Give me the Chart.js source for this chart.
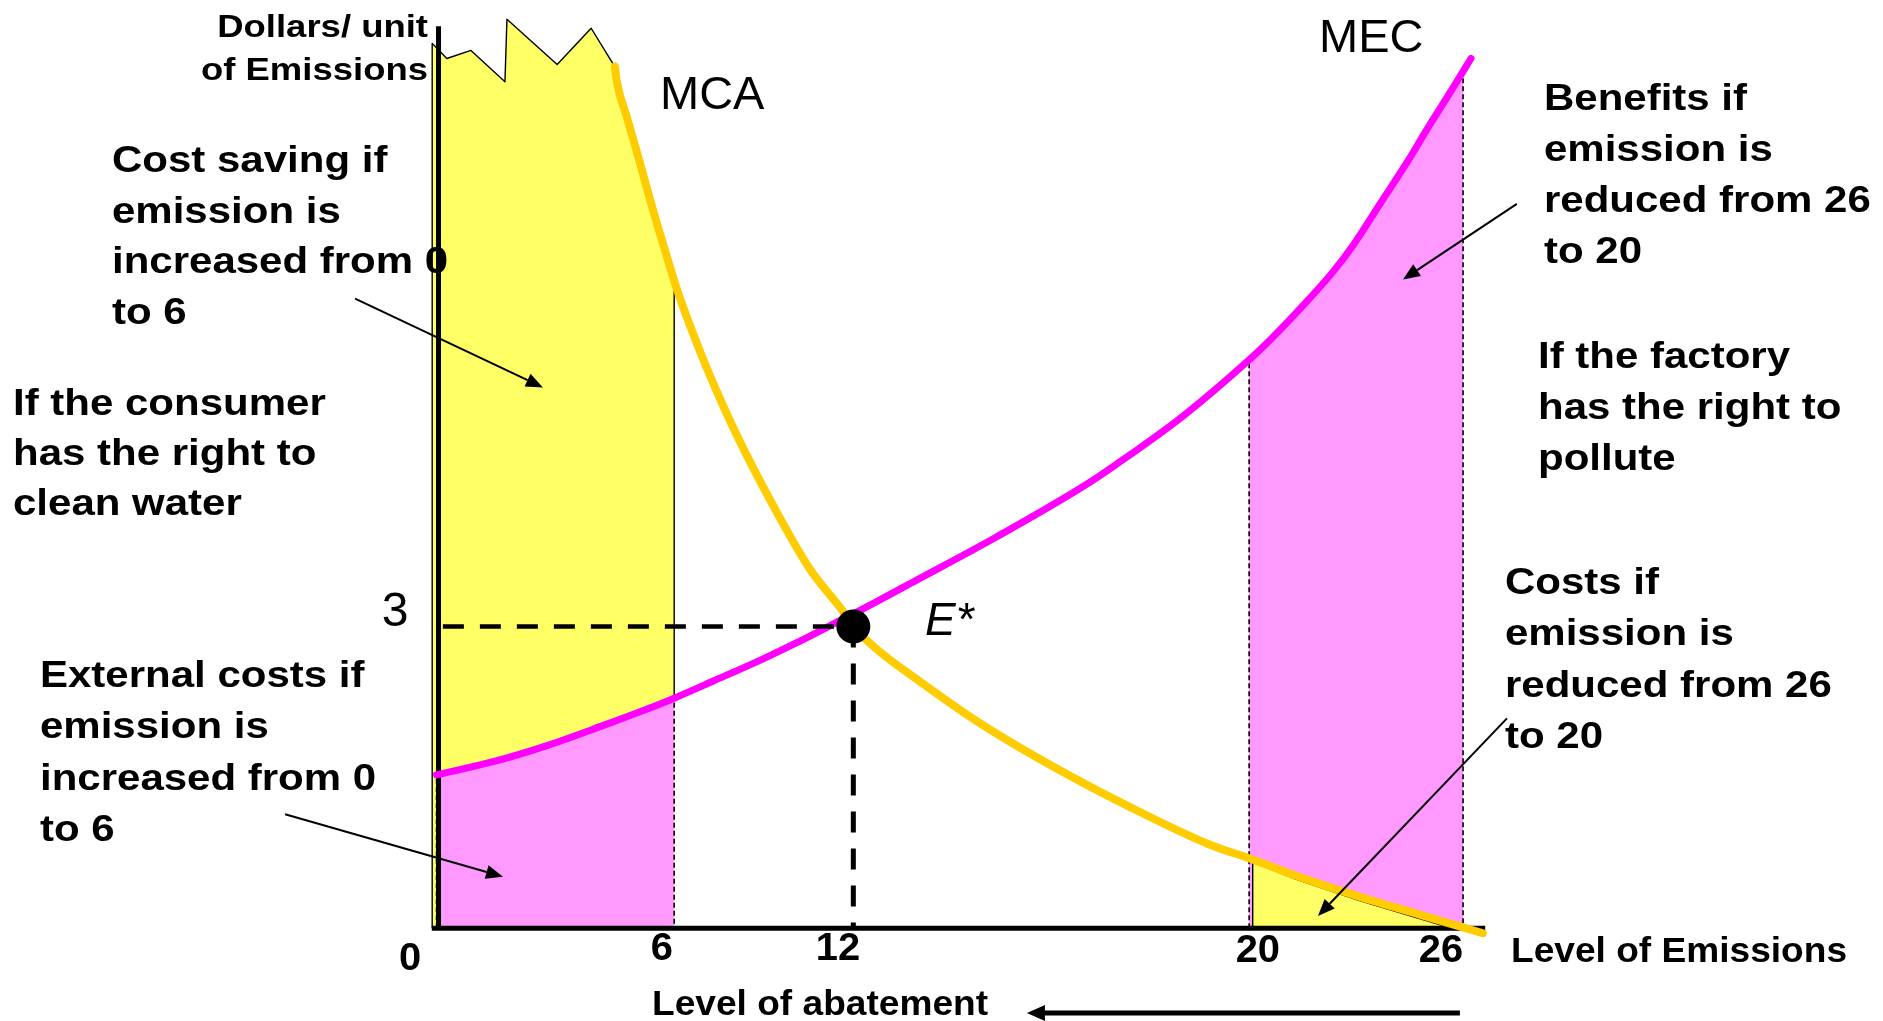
<!DOCTYPE html>
<html>
<head>
<meta charset="utf-8">
<title>Coase: MCA and MEC</title>
<script src="https://cdn.jsdelivr.net/npm/chart.js@4.4.1/dist/chart.umd.min.js"></script>
<style>
    html, body { margin: 0; padding: 0; background: #ffffff; overflow: hidden; }
    #wrap { width: 1883px; height: 1021px; position: relative; }
</style>
</head>
<body>
<div id="wrap"><canvas id="coaseChart"></canvas></div>
<script>
// Marginal cost of abatement (MCA)
const mcaX = [4.55, 4.60, 4.86, 5.18, 5.44, 5.77, 6.12, 6.53, 6.95, 7.64, 8.55, 9.48, 10.32, 10.58, 11.25, 12.14, 13.71, 15.55, 17.63, 19.58, 20.61, 21.85, 23.39, 24.94, 26.5];
const mcaY = [8.54, 8.39, 8.03, 7.59, 7.22, 6.78, 6.33, 5.89, 5.48, 4.88, 4.19, 3.56, 3.14, 2.99, 2.74, 2.48, 2.05, 1.62, 1.19, 0.83, 0.69, 0.51, 0.31, 0.13, -0.05];

// Marginal external cost (MEC)
const mecX = [0.04, 1.47, 2.83, 4.26, 5.35, 6.05, 7.04, 8.30, 9.15, 10.0, 10.75, 12.18, 14.21, 16.40, 17.24, 18.93, 20.61, 21.12, 21.88, 22.74, 23.22, 23.90, 24.63, 25.06, 25.65, 26.2];
const mecY = [1.52, 1.65, 1.81, 2.01, 2.17, 2.28, 2.45, 2.67, 2.83, 3.00, 3.15, 3.45, 3.88, 4.38, 4.60, 5.08, 5.64, 5.83, 6.14, 6.52, 6.77, 7.18, 7.62, 7.90, 8.27, 8.62];

// Broken-off top of the yellow area next to the y axis
const edgeX = [-0.07, 0.13, 0.30, 0.91, 1.77, 1.82, 3.09, 3.95, 4.50];
const edgeY = [8.77, 8.69, 8.62, 8.70, 8.39, 9.01, 8.56, 8.92, 8.57];

// Yellow triangle under MCA between 20 and 26 (its edge runs just under the curve)
const costX = [20.68, 20.68, 21.75, 23.40, 25.70];
const costY = [0, 0.66, 0.49, 0.27, 0];

// Where the tick numbers sit on the drawing, and what they say
const xTickPos = [5.74, 10.19, 20.81, 25.44];
const xTickLabels = ['6', '12', '20', '26'];
const yTickPos = [3];
const yTickLabels = ['3'];

// Equilibrium E* and the strips that are shaded
const eqX = 10.58, eqY = 2.99;
const leftFrom = 0.04, leftTo = 6.05;
const rightFrom = 20.59, rightTo = 26.0;
const axisTop = 8.94, axisEnd = 26.56;

// Arrows: [fromX, fromY, toX, toY]
const arrows = [
    [-2.02, 6.24, 2.73, 5.36],
    [-3.79, 1.13, 1.72, 0.51],
    [27.36, 7.18, 24.48, 6.43],
    [27.11, 2.08, 22.33, 0.12]
];
const abatementArrow = [25.92, -0.84, 14.97, -0.84];

const YELLOW = '#FFFF66';
const PINK = '#FF99FF';
const MAGENTA = '#FF00FF';
const GOLD = '#FFCC00';
const FONT = '"Liberation Sans", Arial, Helvetica, sans-serif';

function pts(xs, ys) {
    return xs.map((x, i) => ({ x: x, y: ys[i] }));
}

function valueAt(xs, ys, x) {
    for (let i = 1; i < xs.length; i++) {
        if (x <= xs[i]) {
            const t = (x - xs[i - 1]) / (xs[i] - xs[i - 1]);
            return ys[i - 1] + t * (ys[i] - ys[i - 1]);
        }
    }
    return ys[ys.length - 1];
}

const mcaPts = pts(mcaX, mcaY);
const mecPts = pts(mecX, mecY);
const edgePts = pts(edgeX, edgeY);

// Shaded areas, each one traced as a closed outline
const mcaLeft = mcaPts.filter(p => p.x < leftTo);
const yellowLeftArea = [{ x: edgeX[0], y: 0 }]
    .concat(edgePts, mcaLeft, [{ x: leftTo, y: valueAt(mcaX, mcaY, leftTo) }, { x: leftTo, y: 0 }]);
const yellowLeftEdge = [{ x: edgeX[0], y: 0 }]
    .concat(edgePts, mcaLeft, [{ x: leftTo, y: valueAt(mcaX, mcaY, leftTo) }, { x: leftTo, y: valueAt(mecX, mecY, leftTo) }]);
const pinkLeftArea = [{ x: leftFrom, y: 0 }]
    .concat(mecPts.filter(p => p.x >= leftFrom && p.x <= leftTo), [{ x: leftTo, y: 0 }]);
const pinkRightArea = [{ x: rightFrom, y: 0 }, { x: rightFrom, y: valueAt(mecX, mecY, rightFrom) }]
    .concat(mecPts.filter(p => p.x > rightFrom && p.x < rightTo),
        [{ x: rightTo, y: valueAt(mecX, mecY, rightTo) }, { x: rightTo, y: 0 }]);

// Text blocks (pixel positions of the first baseline); the original text is a little stretched
const textBlocks = [
    { lines: ['Dollars/ unit', 'of Emissions'], x: 428, y: 37, step: 43, size: 32, stretch: 1.14, align: 'right' },
    { lines: ['Cost saving if', 'emission is', 'increased from 0', 'to 6'], x: 112, y: 172, step: 50.5 },
    { lines: ['If the consumer', 'has the right to', 'clean water'], x: 13, y: 415, step: 50 },
    { lines: ['External costs if', 'emission is', 'increased from 0', 'to 6'], x: 40, y: 687, step: 51.3 },
    { lines: ['Benefits if', 'emission is', 'reduced from 26', 'to 20'], x: 1544, y: 110, step: 51 },
    { lines: ['If the factory', 'has the right to', 'pollute'], x: 1538, y: 368, step: 51 },
    { lines: ['Costs if', 'emission is', 'reduced from 26', 'to 20'], x: 1505, y: 594, step: 51.3 },
    { lines: ['Level of Emissions'], x: 1511, y: 962, size: 35, stretch: 1.06 },
    { lines: ['Level of abatement'], x: 652, y: 1015, size: 35, stretch: 1.06 },
    { lines: ['0'], x: 410, y: 970, size: 38, stretch: 1.05, align: 'center' },
    { lines: ['MCA'], x: 660, y: 109, size: 47, weight: 'normal', stretch: 1 },
    { lines: ['MEC'], x: 1319, y: 52, size: 47, weight: 'normal', stretch: 1 },
    { lines: ['E*'], x: 925, y: 635, size: 46, weight: 'normal', style: 'italic', stretch: 1 }
];

function drawText(ctx, text, x, y, stretch) {
    ctx.save();
    ctx.translate(x, y);
    ctx.scale(stretch, 1);
    ctx.fillText(text, 0, 0);
    ctx.restore();
}

function drawArrow(ctx, chart, a, width, len, half) {
    const xs = chart.scales.x, ys = chart.scales.y;
    const x1 = xs.getPixelForValue(a[0]), y1 = ys.getPixelForValue(a[1]);
    const x2 = xs.getPixelForValue(a[2]), y2 = ys.getPixelForValue(a[3]);
    const ang = Math.atan2(y2 - y1, x2 - x1);
    const bx = x2 - len * Math.cos(ang), by = y2 - len * Math.sin(ang);
    ctx.strokeStyle = '#000000';
    ctx.fillStyle = '#000000';
    ctx.lineWidth = width;
    ctx.beginPath();
    ctx.moveTo(x1, y1);
    ctx.lineTo(bx, by);
    ctx.stroke();
    ctx.beginPath();
    ctx.moveTo(x2, y2);
    ctx.lineTo(bx + half * Math.sin(ang), by - half * Math.cos(ang));
    ctx.lineTo(bx - half * Math.sin(ang), by + half * Math.cos(ang));
    ctx.closePath();
    ctx.fill();
}

const annotationPlugin = {
    id: 'annotations',
    afterDatasetsDraw(chart) {
        const ctx = chart.ctx;
        ctx.save();
        arrows.forEach(a => drawArrow(ctx, chart, a, 2, 17, 7));
        drawArrow(ctx, chart, abatementArrow, 5, 18, 8);
        ctx.restore();
    },
    afterDraw(chart) {
        const ctx = chart.ctx;
        const xs = chart.scales.x, ys = chart.scales.y;
        ctx.save();
        ctx.fillStyle = '#000000';
        ctx.textBaseline = 'alphabetic';

        // tick numbers
        ctx.font = 'bold 38px ' + FONT;
        ctx.textAlign = 'center';
        const base = ys.getPixelForValue(0);
        xTickPos.forEach((v, i) => {
            drawText(ctx, xTickLabels[i], xs.getPixelForValue(v), base + (i < 2 ? 32 : 34), 1.05);
        });
        ctx.font = 'normal 48px ' + FONT;
        yTickPos.forEach((v, i) => {
            drawText(ctx, yTickLabels[i], 395, ys.getPixelForValue(v), 1);
        });

        textBlocks.forEach(b => {
            const size = b.size || 37.5;
            ctx.font = (b.style || 'normal') + ' ' + (b.weight || 'bold') + ' ' + size + 'px ' + FONT;
            ctx.textAlign = b.align || 'left';
            b.lines.forEach((line, i) => {
                drawText(ctx, line, b.x, b.y + i * (b.step || 0), b.stretch || 1.12);
            });
        });
        ctx.restore();
    }
};

function initializeCoaseChart() {
    const el = document.getElementById('coaseChart');
    if (!el) {
        return null;
    }

    return new Chart(el.getContext('2d'), {
        type: 'line',
        data: {
            datasets: [
                {
                    label: 'E*',
                    data: [{ x: eqX, y: eqY }],
                    showLine: false,
                    pointRadius: 17,
                    pointBackgroundColor: '#000000',
                    pointBorderWidth: 0,
                    order: 0
                },
                {
                    label: 'E* price',
                    data: [{ x: 0.2, y: eqY }, { x: eqX, y: eqY }],
                    borderColor: '#000000',
                    borderWidth: 4.5,
                    borderDash: [21, 16],
                    order: 1
                },
                {
                    label: 'E* level',
                    data: [{ x: eqX, y: eqY }, { x: eqX, y: 0 }],
                    borderColor: '#000000',
                    borderWidth: 5,
                    borderDash: [21, 16],
                    order: 1
                },
                {
                    label: 'MCA',
                    data: mcaPts,
                    borderColor: GOLD,
                    borderWidth: 8,
                    borderCapStyle: 'round',
                    cubicInterpolationMode: 'monotone',
                    order: 2
                },
                {
                    label: 'MEC',
                    data: mecPts,
                    borderColor: MAGENTA,
                    borderWidth: 7,
                    borderCapStyle: 'round',
                    cubicInterpolationMode: 'monotone',
                    order: 3
                },
                {
                    label: 'y axis',
                    data: [{ x: 0.09, y: 0 }, { x: 0.09, y: axisTop }],
                    borderColor: '#000000',
                    borderWidth: 5,
                    order: 4
                },
                {
                    label: 'x axis',
                    data: [{ x: -0.08, y: 0 }, { x: axisEnd, y: 0 }],
                    borderColor: '#000000',
                    borderWidth: 5,
                    order: 4
                },
                {
                    label: 'cost saving edge',
                    data: yellowLeftEdge,
                    borderColor: '#000000',
                    borderWidth: 1.4,
                    order: 5
                },
                {
                    label: 'costs 26 to 20',
                    data: pts(costX, costY),
                    fill: 'shape',
                    backgroundColor: YELLOW,
                    borderColor: '#000000',
                    borderWidth: 1.4,
                    order: 6
                },
                {
                    label: 'benefits 26 to 20',
                    data: pinkRightArea,
                    fill: 'shape',
                    backgroundColor: PINK,
                    borderColor: '#000000',
                    borderWidth: 1.6,
                    borderDash: [5, 3],
                    order: 7
                },
                {
                    label: 'external costs 0 to 6',
                    data: pinkLeftArea,
                    fill: 'shape',
                    backgroundColor: PINK,
                    borderColor: '#000000',
                    borderWidth: 1.6,
                    borderDash: [5, 3],
                    order: 8
                },
                {
                    label: 'cost saving 0 to 6',
                    data: yellowLeftArea,
                    fill: 'shape',
                    backgroundColor: YELLOW,
                    borderWidth: 0,
                    order: 9
                }
            ]
        },
        options: {
            responsive: true,
            maintainAspectRatio: false,
            animation: false,
            events: [],
            layout: { padding: 0, autoPadding: false },
            elements: {
                point: { radius: 0 },
                line: { tension: 0, borderJoinStyle: 'round' }
            },
            plugins: {
                legend: { display: false },
                tooltip: { enabled: false }
            },
            scales: {
                x: { type: 'linear', min: -11.0, max: 36.62, display: false },
                y: { type: 'linear', min: -0.92, max: 9.2, display: false }
            }
        },
        plugins: [annotationPlugin]
    });
}

initializeCoaseChart();
</script>
</body>
</html>
